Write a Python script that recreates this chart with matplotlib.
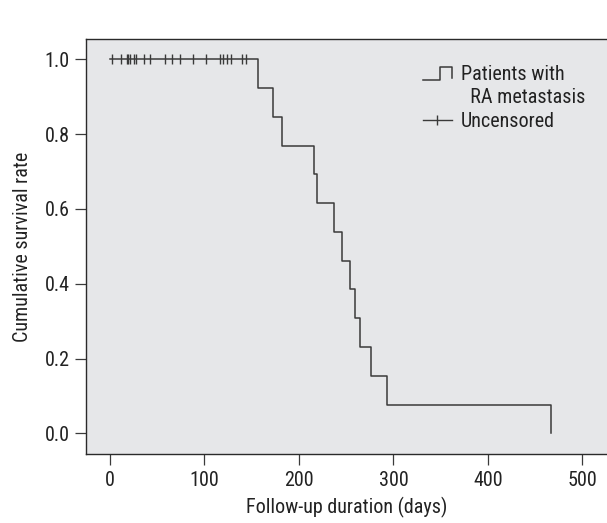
import numpy as np
import matplotlib
matplotlib.use("Agg")
import matplotlib.pyplot as plt
from matplotlib import font_manager
from matplotlib.lines import Line2D
from matplotlib.legend_handler import HandlerBase

# the original uses a condensed sans; take the narrowest one we can find
font_candidates = ['Liberation Sans Narrow', 'Roboto Condensed',
                   'Noto Sans Condensed', 'Open Sans Condensed',
                   'Arial Narrow', 'Liberation Sans']
chosen = 'DejaVu Sans'
for name in font_candidates:
    try:
        font_manager.findfont(name, fallback_to_default=False)
        chosen = name
        break
    except ValueError:
        continue
plt.rcParams['font.family'] = [chosen, 'DejaVu Sans']

# Kaplan-Meier curve
event_days = [0, 157, 172, 182, 216, 219, 237, 246, 254, 259, 265, 276, 293, 467]
survival = [1.0, 0.923, 0.846, 0.769, 0.692, 0.615, 0.538, 0.462, 0.385,
            0.308, 0.231, 0.154, 0.077, 0.0]
censored_days = [2, 12, 18, 19, 21, 25, 28, 36, 42, 58, 66, 74, 88, 102,
                 116, 120, 124, 128, 140, 144]
censored_surv = [1.0] * len(censored_days)

x_ticks = [0, 100, 200, 300, 400, 500]
y_ticks = [0.0, 0.2, 0.4, 0.6, 0.8, 1.0]

line_col = "#3a3a3a"
bg_col = "#e6e7e9"
txt_col = "#222222"
fs = 14.5


class StepHandler(HandlerBase):
    # little "_|‾|" icon used in the legend
    def create_artists(self, legend, orig_handle, xdescent, ydescent,
                       width, height, fontsize, trans):
        xs = np.array([0, 0.58, 0.58, 1.0, 1.0]) * width - xdescent
        ys = np.array([0.0, 0.0, 0.92, 0.92, 0.15]) * height - ydescent
        ln = Line2D(xs, ys, color=orig_handle.get_color(), lw=1.1,
                    transform=trans)
        return [ln]


fig = plt.figure(figsize=(6.07, 5.23), dpi=100)
ax = fig.add_axes([0.1412, 0.1319, 0.8588, 0.793])
ax.set_facecolor(bg_col)

ax.step(event_days, survival, where="post", color=line_col, lw=1.1)
ax.plot(censored_days, censored_surv, linestyle="none", marker="|",
        markersize=7, markeredgewidth=1.0, color=line_col)

ax.set_xlim(-25.7, 526)
ax.set_ylim(-0.0553, 1.0535)
ax.set_xticks(x_ticks)
ax.set_yticks(y_ticks)
ax.set_yticklabels([f"{v:.1f}" for v in y_ticks])
ax.tick_params(direction="out", length=8, width=0.9, color=line_col,
               labelsize=fs, labelcolor=txt_col)
ax.tick_params(axis="x", pad=4)
ax.tick_params(axis="y", pad=3.5)

for s in ["left", "top", "bottom"]:
    ax.spines[s].set_color("#2a2a2a")
    ax.spines[s].set_linewidth(1.0)
ax.spines["right"].set_visible(False)

ax.set_xlabel("Follow-up duration (days)", fontsize=fs, color=txt_col,
              labelpad=5)
ax.set_ylabel("Cumulative survival rate", fontsize=fs, color=txt_col,
              labelpad=9)

step_h = Line2D([], [], color=line_col)
blank_h = Line2D([], [], linestyle="none")
cens_h = Line2D([], [], color=line_col, lw=1.0, marker="|", markersize=7,
                markeredgewidth=1.0)
ax.legend([step_h, blank_h, cens_h],
          ["Patients with", "  RA metastasis", "Uncensored"],
          handler_map={step_h: StepHandler()},
          loc="upper left", bbox_to_anchor=(0.6465, 0.938),
          frameon=False, fontsize=fs, borderpad=0, borderaxespad=0,
          handlelength=1.45, handletextpad=0.45, labelspacing=0.22,
          labelcolor=txt_col)

fig.savefig("out.png", dpi=100)
